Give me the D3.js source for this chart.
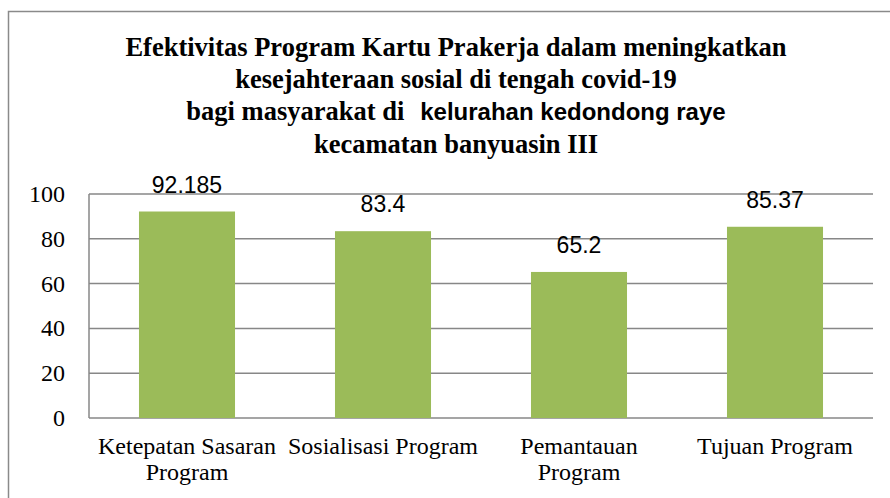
<!DOCTYPE html>
<html>
<head>
<meta charset="utf-8">
<script src="https://cdn.jsdelivr.net/npm/d3@7"></script>
<style>
  body { margin: 0; background: #fff; }
  svg { display: block; }
</style>
</head>
<body>
<script>
// data
var categories = ["Ketepatan Sasaran Program", "Sosialisasi Program", "Pemantauan Program", "Tujuan Program"];
var values = [92.185, 83.4, 65.2, 85.37];
var valueLabels = ["92.185", "83.4", "65.2", "85.37"];
var yTicks = [0, 20, 40, 60, 80, 100];
var titleLines = [
  "Efektivitas Program Kartu Prakerja dalam meningkatkan",
  "kesejahteraan sosial di tengah covid-19",
  "bagi masyarakat di",
  "kecamatan banyuasin III"
];
var titleSans = "kelurahan kedondong raye";

var width = 890,
    height = 498;

var serif = "'Liberation Serif', 'Times New Roman', serif",
    sans = "'Liberation Sans', Arial, sans-serif",
    gridColor = "#878787";

var svg = d3.select("body").append("svg")
    .attr("width", width)
    .attr("height", height);

// outer chart border (runs off the right and bottom)
svg.append("rect")
    .attr("x", 8.5).attr("y", 11.5)
    .attr("width", 900).attr("height", 500)
    .attr("fill", "none")
    .attr("stroke", "#8a8a8a")
    .attr("stroke-width", 1.5);

var x = d3.scaleBand()
    .domain(categories)
    .range([89, 873])
    .paddingInner(0.51)
    .paddingOuter(0.255);

var y = d3.scaleLinear()
    .domain([0, 100])
    .range([418, 194]);

// gridlines
svg.append("g").selectAll("line")
    .data(yTicks)
  .enter().append("line")
    .attr("x1", 89).attr("x2", 873)
    .attr("y1", function(d) { return y(d); })
    .attr("y2", function(d) { return y(d); })
    .attr("stroke", gridColor)
    .attr("stroke-width", 1.5);

// left axis line
svg.append("line")
    .attr("x1", 89).attr("x2", 89)
    .attr("y1", y(100)).attr("y2", y(0))
    .attr("stroke", gridColor)
    .attr("stroke-width", 1.5);

// y tick labels
svg.append("g").selectAll("text")
    .data(yTicks)
  .enter().append("text")
    .attr("x", 65)
    .attr("y", function(d) { return y(d); })
    .attr("dy", "0.33em")
    .attr("text-anchor", "end")
    .style("font-family", serif)
    .style("font-size", "24px")
    .attr("fill", "#000")
    .text(function(d) { return d; });

// bars
svg.append("g").selectAll("rect")
    .data(values)
  .enter().append("rect")
    .attr("x", function(d, i) { return x(categories[i]); })
    .attr("y", function(d) { return y(d); })
    .attr("width", x.bandwidth())
    .attr("height", function(d) { return y(0) - y(d); })
    .attr("fill", "#9bbb59");

// value labels
svg.append("g").selectAll("text")
    .data(values)
  .enter().append("text")
    .attr("x", function(d, i) { return x(categories[i]) + x.bandwidth() / 2; })
    .attr("y", function(d) { return y(d) - 19; })
    .attr("text-anchor", "middle")
    .style("font-family", sans)
    .style("font-size", "23px")
    .attr("fill", "#000")
    .text(function(d, i) { return valueLabels[i]; });

// category labels, wrapped to the band step
var catText = svg.append("g").selectAll("text")
    .data(categories)
  .enter().append("text")
    .attr("x", function(d) { return x(d) + x.bandwidth() / 2; })
    .attr("y", 454)
    .attr("text-anchor", "middle")
    .style("font-family", serif)
    .style("font-size", "24px")
    .attr("fill", "#000");

catText.each(function(d) {
  var el = d3.select(this),
      cx = +el.attr("x"),
      words = d.split(" "),
      line = [],
      lineNo = 0,
      tspan = el.append("tspan").attr("x", cx).attr("y", 454);
  words.forEach(function(w) {
    line.push(w);
    tspan.text(line.join(" "));
    if (tspan.node().getComputedTextLength() > x.step() - 2 && line.length > 1) {
      line.pop();
      tspan.text(line.join(" "));
      line = [w];
      lineNo++;
      tspan = el.append("tspan").attr("x", cx).attr("y", 454 + lineNo * 26).text(w);
    }
  });
});

// title
var titleX = 456,
    titleY = [56, 88, 120, 153];

titleLines.forEach(function(t, i) {
  var tx = svg.append("text")
      .attr("x", titleX)
      .attr("y", titleY[i])
      .attr("text-anchor", "middle")
      .style("font-family", serif)
      .style("font-size", "26.5px")
      .style("font-weight", "bold")
      .attr("fill", "#000");
  if (i === 2) {
    tx.append("tspan").text(t);
    tx.append("tspan")
        .attr("dx", 16)
        .style("font-family", sans)
        .style("font-size", "24px")
        .text(titleSans);
  } else {
    tx.text(t);
  }
});
</script>
</body>
</html>
